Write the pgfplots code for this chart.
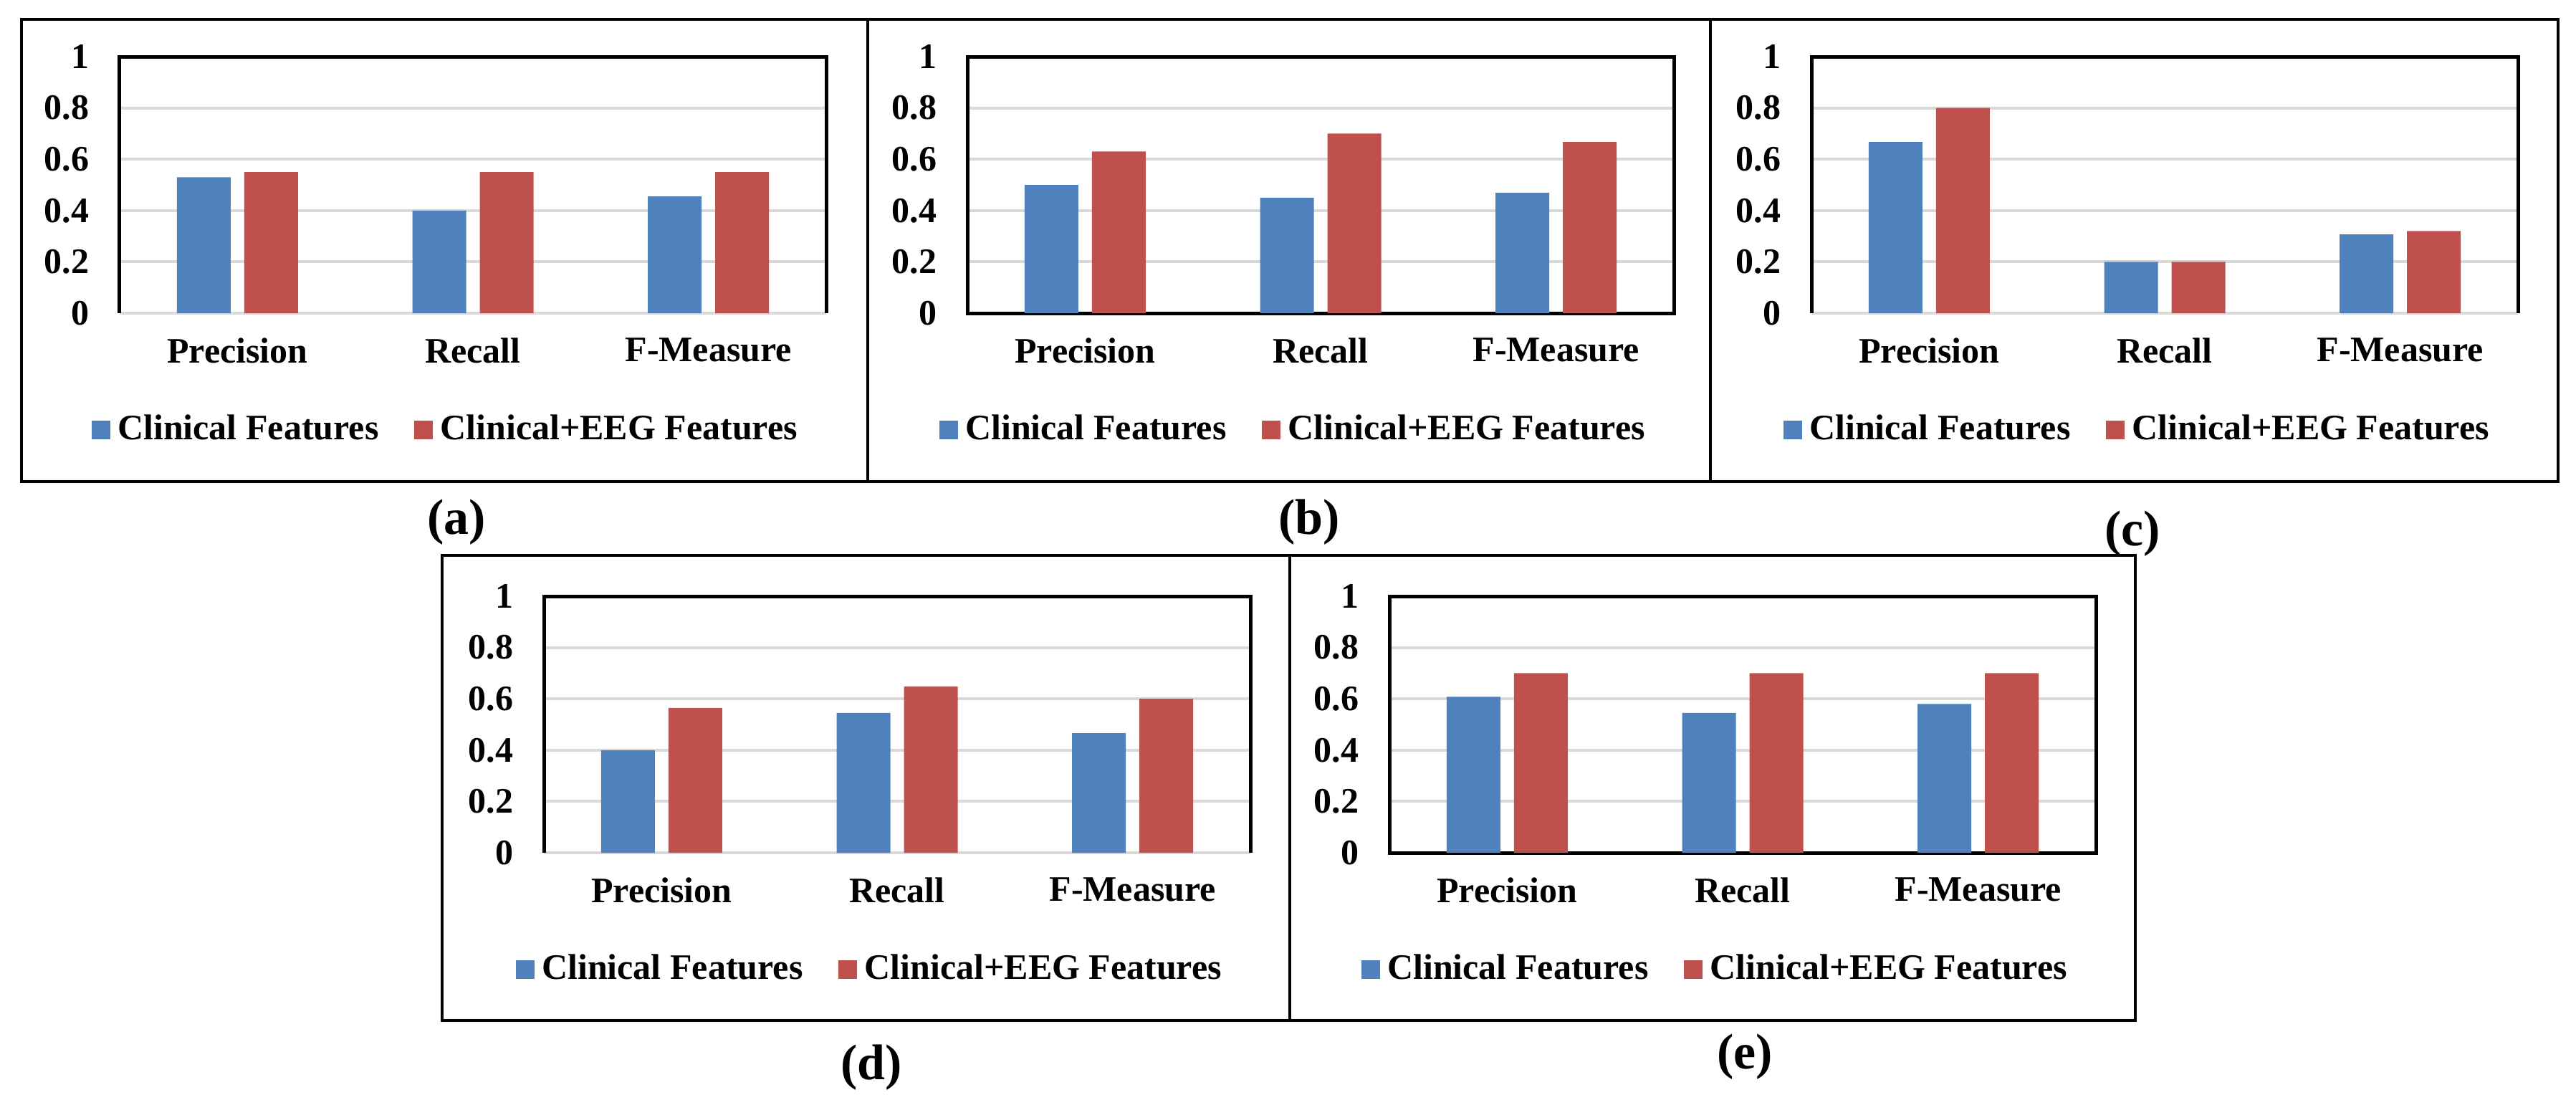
\documentclass[border=0pt]{standalone}
\usepackage{fontspec}
\setmainfont{Liberation Serif}
\usepackage{pgfplots}
\pgfplotsset{compat=1.18}
\definecolor{cfblue}{HTML}{4F81BD}
\definecolor{cfred}{HTML}{C0504D}
\definecolor{gridgray}{HTML}{D9D9D9}

\newcommand{\chartfont}{\fontsize{10}{12}\selectfont\bfseries}

\pgfplotsset{
  panel/.style={
    width=197.2pt, height=71.6pt, scale only axis,
    anchor=south west,
    ybar=3.8pt, bar width=15pt,
    xmin=-0.5, xmax=2.5, ymin=0, ymax=1,
    xtick={0,1,2}, xticklabels={Precision,Recall,F-Measure},
    ytick={0,0.2,0.4,0.6,0.8,1}, yticklabels={0,0.2,0.4,0.6,0.8,1},
    ymajorgrids, grid style={gridgray, line width=0.8pt},
    major tick length=0pt,
    axis line style={black, line width=1pt},
    tick label style={font=\chartfont},
    yticklabel style={xshift=-5pt},
    xticklabel style={yshift=-3.5pt},
    /pgf/number format/assume math mode=true,
    legend columns=2,
    legend style={draw=none, fill=none, at={(0.465,-0.455)}, anchor=center,
      font=\chartfont, /tikz/every even column/.append style={column sep=8pt}},
  },
  % panels whose bottom edge is the grey zero line
  greybase/.style={axis line style={draw=none}, clip=false},
  clin/.style={fill=cfblue, draw=none,
    legend image code/.code={\fill[##1,/tikz/.cd,draw=none] (0pt,-2.6pt) rectangle (5.2pt,2.6pt);}},
  eeg/.style={fill=cfred, draw=none,
    legend image code/.code={\fill[##1,/tikz/.cd,draw=none] (0pt,-2.6pt) rectangle (5.2pt,2.6pt);}},
}

\newcommand{\threesides}{%
  \draw[black, line width=1pt] (rel axis cs:0,0) -- (rel axis cs:0,1)
    -- (rel axis cs:1,1) -- (rel axis cs:1,0);}

\begin{document}
\begin{tikzpicture}
\useasboundingbox (0pt,0pt) rectangle (719pt,-308.2pt);

% (a)
\begin{axis}[panel, greybase, at={(33.4pt,-87.4pt)}]
  \addplot[clin] coordinates {(0,0.53) (1,0.40) (2,0.455)};
  \addplot[eeg] coordinates {(0,0.55) (1,0.55) (2,0.55)};
  \threesides
  \legend{Clinical Features, Clinical+EEG Features}
\end{axis}

% (b)
\begin{axis}[panel, at={(270pt,-87.4pt)}]
  \addplot[clin] coordinates {(0,0.50) (1,0.45) (2,0.47)};
  \addplot[eeg] coordinates {(0,0.63) (1,0.70) (2,0.667)};
  \legend{Clinical Features, Clinical+EEG Features}
\end{axis}

% (c)
\begin{axis}[panel, greybase, at={(505.6pt,-87.4pt)}]
  \addplot[clin] coordinates {(0,0.667) (1,0.20) (2,0.307)};
  \addplot[eeg] coordinates {(0,0.80) (1,0.20) (2,0.32)};
  \threesides
  \legend{Clinical Features, Clinical+EEG Features}
\end{axis}

% (d)
\begin{axis}[panel, greybase, at={(151.8pt,-238pt)}]
  \addplot[clin] coordinates {(0,0.40) (1,0.545) (2,0.466)};
  \addplot[eeg] coordinates {(0,0.565) (1,0.648) (2,0.60)};
  \threesides
  \legend{Clinical Features, Clinical+EEG Features}
\end{axis}

% (e)
\begin{axis}[panel, at={(387.8pt,-238pt)}]
  \addplot[clin] coordinates {(0,0.608) (1,0.545) (2,0.58)};
  \addplot[eeg] coordinates {(0,0.70) (1,0.70) (2,0.70)};
  \legend{Clinical Features, Clinical+EEG Features}
\end{axis}

\begin{scope}[x=0.2pt, y=-0.2pt, line width=0.8pt]
  \draw (30,27) rectangle (1211,672);
  \draw (1211,27) rectangle (2387,672);
  \draw (2387,27) rectangle (3570,672);
  \draw (617,775) rectangle (1800,1424);
  \draw (1800,775) rectangle (2980,1424);
  \begin{scope}[font=\fontsize{14}{16}\selectfont\bfseries]
    \node at (637,729) {(a)};
    \node at (1827,729) {(b)};
    \node at (2976,745) {(c)};
    \node at (1216,1490) {(d)};
    \node at (2435,1475) {(e)};
  \end{scope}
\end{scope}
\end{tikzpicture}
\end{document}
